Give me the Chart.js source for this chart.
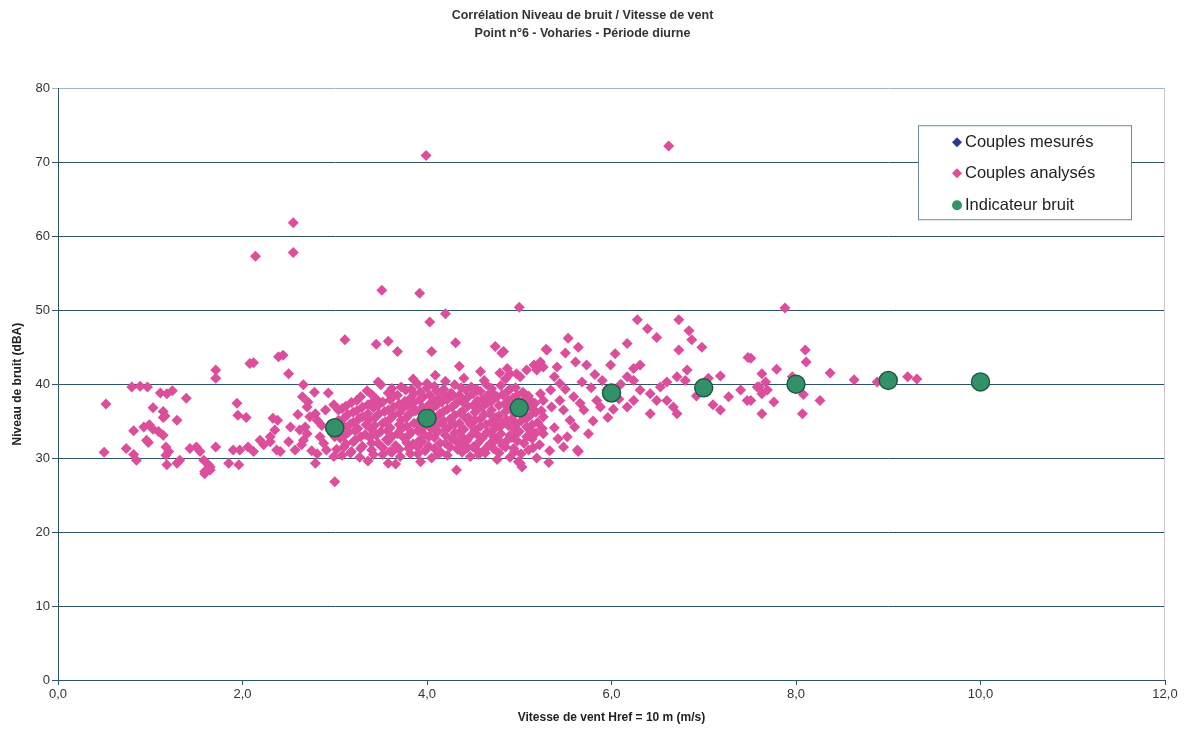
<!DOCTYPE html>
<html>
<head>
<meta charset="utf-8">
<title>Corrélation Niveau de bruit / Vitesse de vent</title>
<script src="https://cdn.jsdelivr.net/npm/chart.js@4.4.1/dist/chart.umd.min.js"></script>
<style>
  html, body { margin: 0; padding: 0; background: #fff; }
  #wrap { width: 1185px; height: 733px; position: relative; }
</style>
</head>
<body>
<div id="wrap"><canvas id="myChart"></canvas></div>
<script>
// values, wind speed (m/s) / noise level (dBA)
const titleLines = ['Corrélation Niveau de bruit / Vitesse de vent', 'Point n°6 - Voharies - Période diurne'];
const xTickLabels = ['0,0', '2,0', '4,0', '6,0', '8,0', '10,0', '12,0'];

// the blue series is hidden under the pink one in the picture
const couplesMesures = [];

const couplesAnalyses = [
  // outliers
  [3.99,70.9],[6.62,72.2],[2.14,57.3],[2.55,61.8],[2.55,57.8],[3.51,52.7],[3.92,52.3],[5.0,50.4],[7.88,50.3],[4.2,49.5],[4.03,48.4],
  // 40-48 dBA, sparse
  [3.11,46.0],[3.45,45.4],[3.58,45.8],[3.68,44.4],[4.05,44.4],[4.31,45.6],[4.35,42.4],[4.74,45.1],[4.81,44.2],[5.29,44.7],
  [3.47,40.3],[4.09,41.2],[4.0,40.1],[4.58,41.7],[4.79,41.5],[4.87,42.1],[4.97,41.4],[5.16,42.6],[5.23,43.0],
  [6.28,48.7],[6.39,47.5],[6.49,46.3],[6.73,48.7],[6.84,47.2],[6.87,46.0],[6.98,45.0],[6.73,44.6],[6.17,45.5],[6.04,44.1],
  [5.53,46.2],[5.64,45.0],[5.5,44.2],[5.30,44.6],[4.83,44.4],[7.48,43.6],
  // 7-9.5 m/s
  [7.79,42.0],[7.63,41.4],[7.67,40.3],[7.18,41.1],[7.40,39.2],[7.47,37.8],[7.27,38.3],[7.18,36.5],[7.63,36.0],[7.76,37.6],[7.60,39.6],
  [8.10,44.6],[8.11,43.0],[7.51,43.5],[8.37,41.5],[7.58,39.6],[7.69,39.2],[7.63,38.7],[7.51,37.8],[7.96,41.0],[8.08,38.6],
  [8.07,36.0],[8.26,37.8],[8.63,40.6],[8.88,40.3],[9.21,41.0],[9.31,40.7],
  // 5.8-7.1 m/s
  [6.80,40.5],[6.82,41.9],[6.71,41.0],[6.60,40.3],[6.53,39.6],[6.42,38.7],[6.49,37.8],[6.60,37.8],[6.67,36.9],[6.71,36.0],[6.42,36.0],
  [6.24,37.8],[6.17,36.9],[6.31,39.2],[6.24,40.5],[6.17,41.0],[6.24,42.1],[6.31,42.6],[5.99,42.6],[5.95,39.2],[5.84,37.8],[5.88,36.9],
  [7.05,40.8],[6.92,38.4],[7.1,37.2],[5.9,40.5],[6.08,38.0],[6.1,40.0],[5.78,39.5],[5.96,35.5],[6.02,36.6],
  // 4.8-5.8 m/s
  [5.26,42.3],[5.19,41.9],[5.08,41.9],[5.01,41.0],[4.90,41.4],[5.41,42.3],[5.61,43.0],[5.73,42.6],[5.44,40.1],[5.34,39.2],[5.23,38.7],
  [5.12,37.8],[5.26,37.8],[5.16,36.5],[5.26,35.6],[5.48,36.5],[5.55,35.1],[5.26,33.3],[5.52,32.9],[5.48,31.5],[5.63,31.1],[5.75,33.3],
  [5.70,36.5],[5.59,38.3],[5.44,37.8],[4.79,34.2],[4.87,32.4],[4.97,33.3],[5.08,32.9],[4.94,31.3],
  [5.35,36.9],[5.38,34.1],[5.42,32.6],[5.33,31.0],[5.6,34.2],[5.66,37.4],[5.8,35.0],[5.5,39.3],[5.68,40.3],[5.82,41.3],[5.38,41.0],
  // below 30 dBA
  [1.18,29.1],[1.29,29.3],[1.59,28.2],[1.65,28.8],[1.85,29.3],[1.96,29.1],[2.79,29.3],[3.0,26.8],[3.58,29.3],[3.93,29.5],[4.32,28.4],
  [5.01,29.3],[5.03,28.8],[5.19,30.0],[5.32,29.4],[5.64,30.9],[3.36,29.6],[3.66,29.2],[4.76,29.8],[4.99,29.5],
  // 0.5-3 m/s
  [0.52,37.3],[0.50,30.8],[0.80,39.6],[0.89,39.7],[0.97,39.6],[1.11,38.8],[1.18,38.7],[1.24,39.1],[1.39,38.1],[1.03,36.8],[1.14,36.3],
  [1.16,35.7],[1.14,35.5],[1.29,35.1],[0.82,33.7],[0.93,34.2],[0.99,34.5],[1.03,33.9],[1.09,33.6],[1.14,33.1],[0.96,32.4],[0.98,32.1],
  [0.74,31.3],[0.82,30.5],[0.85,29.7],[1.17,31.5],[1.2,30.9],[1.17,30.4],[1.32,29.7],[1.43,31.3],[1.5,31.5],[1.54,30.9],[1.58,29.7],
  [1.63,29.1],[1.65,28.4],[1.59,27.9],[1.71,41.9],[1.71,40.8],[1.71,31.5],[1.9,31.1],[1.97,31.1],[1.94,37.4],[1.95,35.8],[2.04,35.5],
  [2.08,42.8],[2.12,42.9],[2.06,31.5],[2.12,30.9],[2.19,32.4],[2.23,31.8],[2.30,32.2],[2.33,35.4],[2.38,35.1],[2.35,33.8],[2.30,32.9],
  [2.39,43.7],[2.44,43.9],[2.5,41.4],[2.37,31.1],[2.41,30.9],[2.52,34.2],[2.5,32.2],[2.57,31.1],[2.66,39.9],[2.65,38.3],[2.71,37.6],
  [2.70,36.9],[2.62,33.8],[2.68,34.2],[2.70,33.3],[2.66,32.4],[2.64,31.8],[2.73,35.6],[2.79,36.0],[2.81,35.1],[2.81,30.6],[2.84,32.9],
  [2.88,32.0],[2.91,31.1],[2.95,33.8],[3.0,32.9],[2.99,30.2],[2.99,37.2],[3.04,36.5],
  [2.75,31.0],[2.86,34.4],[2.9,36.5],[2.93,38.8],[2.6,35.9],[2.78,38.9],
  // dense cloud 3-5.3 m/s
  [3.08,30.4],[3.27,30.1],[3.52,30.5],[3.71,30.2],[3.9,30.6],[4.05,30.0],[4.22,30.4],[4.47,30.2],[4.63,30.7],[4.9,30.1],
  [3.17,30.7],[3.42,30.5],[3.6,30.9],[3.82,30.6],[4.12,30.6],[4.38,30.8],[4.56,30.5],[4.78,30.7],[5.02,30.6],
  [3.02,31.2],[3.18,30.9],[3.4,31.1],[3.62,30.8],[3.8,31.3],[3.98,31.0],[4.15,30.8],[4.33,31.2],[4.55,31.0],[4.72,31.3],[4.95,30.9],[5.1,31.1],
  [3.1,31.5],[3.28,31.3],[3.52,31.4],[3.7,31.2],[3.9,31.5],[4.08,31.3],[4.25,31.5],[4.44,31.4],[4.63,31.2],[4.85,31.5],[5.15,31.4],
  [3.12,31.9],[3.3,31.6],[3.47,32.0],[3.66,31.7],[3.85,31.9],[4.02,31.6],[4.2,32.0],[4.38,31.8],[4.5,31.5],[4.68,31.9],[4.82,31.7],[5.05,32.0],[5.22,31.8],
  [3.2,32.2],[3.4,32.0],[3.58,32.3],[3.78,32.1],[3.95,32.2],[4.14,32.0],[4.32,32.2],[4.55,32.0],[4.72,32.2],[4.98,32.3],
  [3.06,32.7],[3.22,32.4],[3.38,32.8],[3.56,32.5],[3.75,32.7],[3.92,32.4],[4.08,32.8],[4.27,32.6],[4.43,32.3],[4.6,32.7],[4.77,32.5],[4.92,32.8],[5.14,32.6],
  [3.1,33.0],[3.28,32.9],[3.45,33.1],[3.62,32.9],[3.8,33.1],[4.02,32.9],[4.2,33.1],[4.38,32.9],[4.56,33.0],[4.72,32.9],[4.9,33.1],[5.1,33.0],
  [3.15,33.5],[3.33,33.2],[3.5,33.6],[3.68,33.3],[3.83,33.5],[3.97,33.2],[4.12,33.6],[4.3,33.4],[4.48,33.1],[4.65,33.5],[4.8,33.3],[5.0,33.6],[5.18,33.4],
  [3.05,33.8],[3.22,33.7],[3.4,33.9],[3.57,33.7],[3.72,33.9],[3.9,33.7],[4.05,33.9],[4.2,33.8],[4.36,33.6],[4.52,33.8],[4.7,33.7],[4.95,33.9],[5.12,33.8],
  [3.1,34.3],[3.25,34.0],[3.43,34.4],[3.6,34.1],[3.78,34.3],[3.95,34.0],[4.1,34.4],[4.24,34.2],[4.4,33.9],[4.58,34.3],[4.74,34.1],[4.88,34.4],[5.08,34.2],[5.25,34.0],
  [3.17,34.6],[3.34,34.5],[3.52,34.7],[3.7,34.5],[3.86,34.7],[4.02,34.5],[4.16,34.7],[4.3,34.5],[4.47,34.6],[4.64,34.5],[4.8,34.7],[4.97,34.6],[5.14,34.5],
  [3.04,35.1],[3.2,34.8],[3.37,35.2],[3.55,34.9],[3.72,35.1],[3.9,34.8],[4.05,35.2],[4.18,35.0],[4.35,34.7],[4.52,35.1],[4.7,34.9],[4.86,35.2],[5.02,35.0],[5.2,34.8],
  [3.1,35.4],[3.26,35.3],[3.44,35.5],[3.6,35.3],[3.78,35.5],[3.95,35.3],[4.1,35.5],[4.25,35.3],[4.42,35.4],[4.58,35.3],[4.75,35.5],[4.92,35.3],[5.08,35.4],
  [3.14,35.9],[3.3,35.6],[3.48,36.0],[3.63,35.7],[3.8,35.9],[3.98,35.6],[4.14,36.0],[4.3,35.8],[4.45,35.5],[4.62,35.9],[4.78,35.7],[4.95,36.0],[5.12,35.8],
  [3.2,36.2],[3.36,36.0],[3.54,36.3],[3.7,36.1],[3.85,36.3],[4.02,36.1],[4.18,36.3],[4.36,36.1],[4.52,36.2],[4.68,36.0],[4.85,36.3],[5.02,36.1],[5.18,36.2],
  [3.08,36.7],[3.24,36.4],[3.42,36.8],[3.58,36.5],[3.74,36.7],[3.88,36.4],[4.06,36.8],[4.22,36.6],[4.38,36.3],[4.56,36.7],[4.7,36.5],[4.9,36.8],[5.06,36.6],[5.24,36.4],
  [3.12,37.0],[3.3,36.9],[3.47,37.1],[3.64,36.9],[3.8,37.1],[3.95,36.9],[4.1,37.1],[4.27,36.9],[4.44,37.0],[4.6,36.9],[4.78,37.1],[4.95,36.9],[5.12,37.0],
  [3.18,37.5],[3.36,37.2],[3.52,37.6],[3.7,37.3],[3.86,37.5],[4.02,37.2],[4.16,37.6],[4.32,37.4],[4.5,37.1],[4.66,37.5],[4.84,37.3],[5.0,37.6],[5.17,37.4],
  [3.24,37.8],[3.42,37.7],[3.6,37.9],[3.76,37.7],[3.92,37.9],[4.08,37.7],[4.22,37.9],[4.38,37.7],[4.55,37.8],[4.7,37.7],[4.88,37.9],[5.05,37.8],
  [3.28,38.3],[3.45,38.0],[3.64,38.4],[3.82,38.1],[3.96,38.3],[4.12,38.0],[4.28,38.4],[4.44,38.2],[4.6,37.9],[4.76,38.3],[4.93,38.1],[5.1,38.4],
  [3.4,38.6],[3.68,38.5],[3.86,38.7],[4.03,38.5],[4.18,38.7],[4.35,38.5],[4.5,38.7],[4.66,38.5],[4.82,38.6],[4.98,38.5],
  [3.35,39.1],[3.58,38.8],[3.77,39.2],[3.93,38.9],[4.1,39.1],[4.26,38.8],[4.42,39.2],[4.58,39.0],[4.72,38.7],[4.88,39.1],[5.04,38.9],
  [3.62,39.4],[3.83,39.3],[4.0,39.5],[4.18,39.3],[4.37,39.5],[4.54,39.3],[4.7,39.4],[4.9,39.3],
  [3.5,39.9],[3.72,39.6],[3.9,40.0],[4.08,39.7],[4.3,39.9],[4.48,39.6],[4.64,40.0],[4.8,39.8],[4.96,39.5],
  [3.85,40.7],[4.2,40.4],[4.4,40.8],[4.62,40.5],[4.85,40.7]
];

const indicateurVent = [3, 4, 5, 6, 7, 8, 9, 10];
const indicateurBruit = [34.1, 35.4, 36.8, 38.8, 39.5, 40.0, 40.5, 40.3];

const toPoints = pairs => pairs.map(p => ({ x: p[0], y: p[1] }));

// legend box drawn inside the plot, top right, like the Excel one
const boxLegend = {
  id: 'boxLegend',
  afterDraw(chart) {
    const c = chart.ctx;
    const area = chart.chartArea;
    const w = 213, h = 94;
    const left = area.right - 34 - w;
    const top = area.top + 37;
    c.save();
    c.fillStyle = '#fff';
    c.fillRect(left, top, w, h);
    c.strokeStyle = '#6a8a94';
    c.lineWidth = 1;
    c.strokeRect(left + 0.5, top + 0.5, w, h);
    c.font = '16.5px "Liberation Sans", Arial, sans-serif';
    c.textBaseline = 'middle';
    const rows = [17, 48, 80];
    chart.data.datasets.forEach((ds, i) => {
      const y = top + rows[i];
      const mx = left + 39;
      c.fillStyle = ds.backgroundColor;
      c.beginPath();
      if (ds.pointStyle === 'circle') {
        c.arc(mx, y, 5, 0, Math.PI * 2);
      } else {
        c.moveTo(mx, y - 5); c.lineTo(mx + 5, y); c.lineTo(mx, y + 5); c.lineTo(mx - 5, y);
        c.closePath();
      }
      c.fill();
      c.fillStyle = '#222';
      c.fillText(ds.label, mx + 8, y);
    });
    c.restore();
  }
};

// light frame round the plot area
const plotFrame = {
  id: 'plotFrame',
  beforeDatasetsDraw(chart) {
    const a = chart.chartArea;
    const c = chart.ctx;
    c.save();
    c.strokeStyle = '#c8c8c8';
    c.lineWidth = 1;
    c.beginPath();
    c.moveTo(a.right - 0.5, a.top);
    c.lineTo(a.right - 0.5, a.bottom);
    c.stroke();
    c.restore();
  }
};

const ctx = document.getElementById('myChart');
new Chart(ctx, {
  type: 'scatter',
  data: {
    datasets: [
      {
        label: 'Couples mesurés',
        data: toPoints(couplesMesures),
        pointStyle: 'rectRot',
        radius: 5.5,
        borderWidth: 0,
        backgroundColor: '#2c3b92',
        order: 2
      },
      {
        label: 'Couples analysés',
        data: toPoints(couplesAnalyses),
        pointStyle: 'rectRot',
        radius: 5.5,
        borderWidth: 0,
        backgroundColor: '#dc4e9b',
        order: 1
      },
      {
        label: 'Indicateur bruit',
        data: indicateurVent.map((v, i) => ({ x: v, y: indicateurBruit[i] })),
        pointStyle: 'circle',
        radius: 9,
        borderWidth: 1.5,
        borderColor: '#1f5c42',
        backgroundColor: '#33916a',
        order: 0
      }
    ]
  },
  plugins: [plotFrame, boxLegend],
  options: {
    responsive: true,
    maintainAspectRatio: false,
    animation: false,
    layout: { padding: { left: 0, right: 20, top: 0, bottom: 0 } },
    plugins: {
      legend: { display: false },
      tooltip: { enabled: false },
      title: {
        display: true,
        text: titleLines,
        color: '#333',
        font: { family: '"Liberation Sans", Arial, sans-serif', size: 12.5, weight: 'bold', lineHeight: 1.45 },
        padding: { top: 6, bottom: 46 }
      }
    },
    scales: {
      x: {
        type: 'linear',
        min: 0,
        max: 12,
        afterFit: scale => { scale.height = 53; },
        ticks: {
          stepSize: 2,
          color: '#333',
          padding: 2,
          font: { family: '"Liberation Sans", Arial, sans-serif', size: 13 },
          callback: (v, i) => xTickLabels[i]
        },
        grid: { drawOnChartArea: false, tickLength: 5, color: '#2f5565' },
        border: { color: '#2f5565', width: 1 },
        title: {
          display: true,
          text: 'Vitesse de vent Href = 10 m (m/s)',
          color: '#222',
          font: { family: '"Liberation Sans", Arial, sans-serif', size: 12, weight: 'bold' },
          padding: { top: 4, bottom: 8 }
        }
      },
      y: {
        min: 0,
        max: 80,
        afterFit: scale => { scale.width = 58; },
        ticks: {
          stepSize: 10,
          color: '#333',
          padding: 2,
          font: { family: '"Liberation Sans", Arial, sans-serif', size: 13 }
        },
        grid: {
          tickLength: 6,
          lineWidth: 1,
          color: c => c.tick && c.tick.value === 80 ? '#9fb4bc' : '#2f5565'
        },
        border: { color: '#2f5565', width: 1 },
        title: {
          display: true,
          text: 'Niveau de bruit (dBA)',
          color: '#222',
          font: { family: '"Liberation Sans", Arial, sans-serif', size: 12, weight: 'bold' },
          padding: { top: 10, bottom: 0 }
        }
      }
    }
  }
});
</script>
</body>
</html>
